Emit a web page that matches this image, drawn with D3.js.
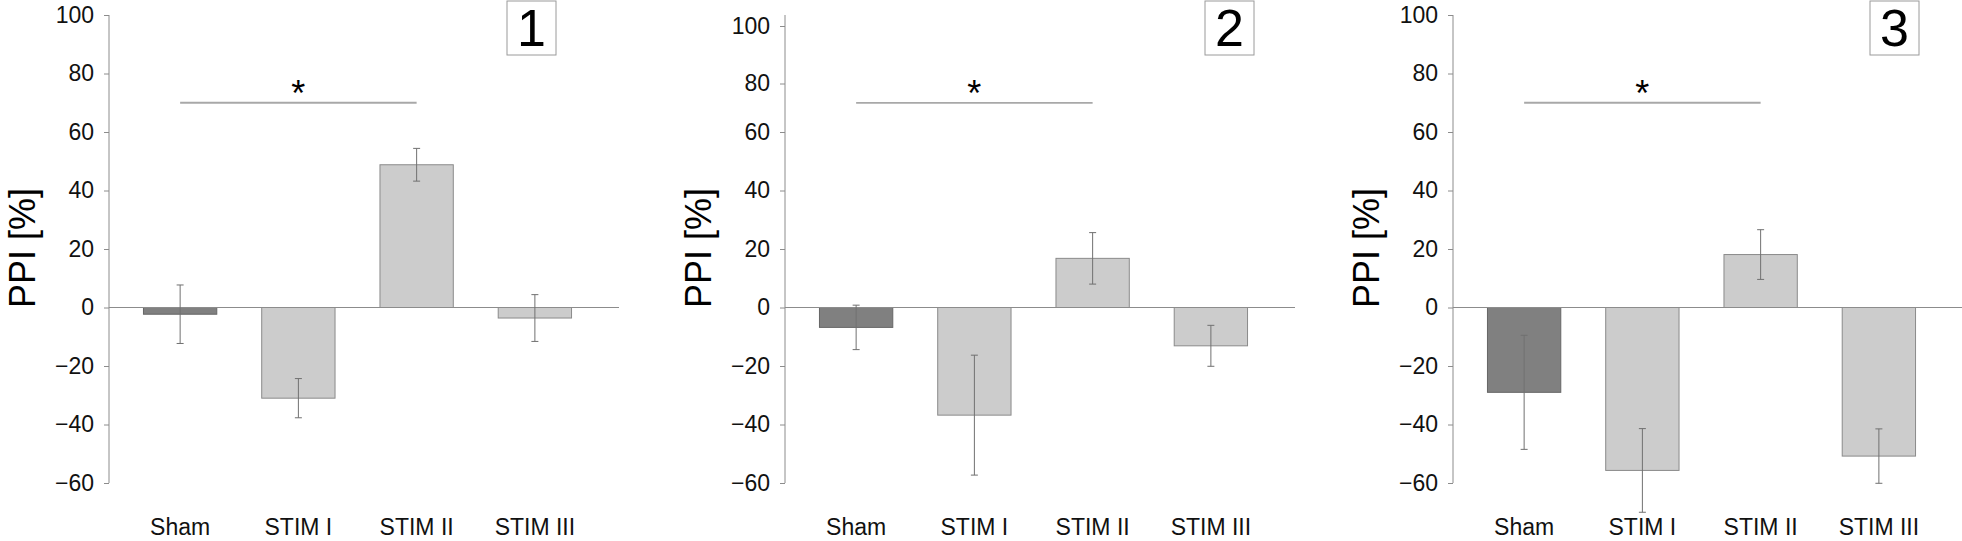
<!DOCTYPE html>
<html>
<head>
<meta charset="utf-8">
<script src="https://cdnjs.cloudflare.com/ajax/libs/d3/7.8.5/d3.min.js"></script>
<style>
  body { margin: 0; background: #fff; }
  svg { display: block; font-family: "Liberation Sans", Arial, sans-serif; }
</style>
</head>
<body>
<svg width="1962" height="541"></svg>
<script>
// categories and values
var categories = ["Sham", "STIM I", "STIM II", "STIM III"];
var panelNames = ["1", "2", "3"];
var yTicks = [-60, -40, -20, 0, 20, 40, 60, 80, 100];

var means1 = [-2.3, -31, 48.8, -3.6];
var errs1  = [10, 6.7, 5.6, 8];
var means2 = [-6.8, -36.8, 16.8, -13.1];
var errs2  = [7.6, 20.5, 8.8, 7];
var means3 = [-29, -55.7, 18.1, -50.8];
var errs3  = [19.5, 14.3, 8.5, 9.3];

var sigFrom = "Sham", sigTo = "STIM II";
var sigLevels = [70, 72, 70];

var svg = d3.select("svg");

// layout
var axisX = [109, 785, 1453];
var boxX = [507, 1205, 1870];
var yBottom = 483, yTop = 15;

var panels = [
    { name: panelNames[0], means: means1, errs: errs1 },
    { name: panelNames[1], means: means2, errs: errs2 },
    { name: panelNames[2], means: means3, errs: errs3 }
];

var baseY = d3.scaleLinear().domain([-60, 100]).range([yBottom, yTop]);

panels.forEach(function(p, k) {
    var ax = axisX[k];
    var g = svg.append("g");

    var y = baseY.copy();
    if (k == 1) {
        // the middle panel has its two top ticks pushed down a bit
        y = d3.scaleLinear().domain([-60, 60, 80, 100])
            .range([yBottom, baseY(60), baseY(80) + 10, baseY(100) + 11]);
    }

    var x = d3.scaleBand()
        .domain(categories)
        .range([ax + 12, ax + 485])
        .paddingInner(0.38)
        .paddingOuter(0.19);

    // y axis
    var yAxis = d3.axisLeft(y).tickValues(yTicks).tickSize(5).tickPadding(10);
    var axG = g.append("g")
        .attr("transform", "translate(" + ax + ",0)")
        .call(yAxis);
    axG.select(".domain").remove();
    axG.selectAll(".tick line").attr("stroke", "#8c8c8c");
    axG.selectAll(".tick text")
        .attr("font-size", 23)
        .attr("font-family", "Liberation Sans, Arial, sans-serif")
        .attr("fill", "#111");
    g.append("line")
        .attr("x1", ax).attr("x2", ax)
        .attr("y1", baseY(100)).attr("y2", y(-60))
        .attr("stroke", "#8c8c8c");

    // axis title
    g.append("text")
        .attr("transform", "translate(" + (ax - 87) + ",248) rotate(-90)")
        .attr("text-anchor", "middle")
        .attr("dy", "0.36em")
        .attr("font-size", 36)
        .attr("fill", "#000")
        .text("PPI [%]");

    // bars
    g.selectAll(".bar")
        .data(p.means)
        .enter()
        .append("rect")
        .attr("x", function(d, i) { return x(categories[i]); })
        .attr("y", function(d) { return Math.min(y(d), y(0)); })
        .attr("width", x.bandwidth())
        .attr("height", function(d) { return Math.abs(y(d) - y(0)); })
        .attr("fill", function(d, i) { return i == 0 ? "#808080" : "#cccccc"; })
        .attr("stroke", function(d, i) { return i == 0 ? "#666" : "#8a8a8a"; })
        .attr("stroke-width", 1);

    // zero line
    g.append("line")
        .attr("x1", ax).attr("x2", ax + 510)
        .attr("y1", y(0)).attr("y2", y(0))
        .attr("stroke", "#8c8c8c");

    // error bars
    var eb = g.selectAll(".err")
        .data(p.means)
        .enter()
        .append("g");
    eb.append("line")
        .attr("x1", function(d, i) { return x(categories[i]) + x.bandwidth() / 2; })
        .attr("x2", function(d, i) { return x(categories[i]) + x.bandwidth() / 2; })
        .attr("y1", function(d, i) { return y(d + p.errs[i]); })
        .attr("y2", function(d, i) { return y(d - p.errs[i]); })
        .attr("stroke", "#707070");
    [1, -1].forEach(function(s) {
        eb.append("line")
            .attr("x1", function(d, i) { return x(categories[i]) + x.bandwidth() / 2 - 3.5; })
            .attr("x2", function(d, i) { return x(categories[i]) + x.bandwidth() / 2 + 3.5; })
            .attr("y1", function(d, i) { return y(d + s * p.errs[i]); })
            .attr("y2", function(d, i) { return y(d + s * p.errs[i]); })
            .attr("stroke", "#707070");
    });

    // category labels
    g.selectAll(".cat")
        .data(categories)
        .enter()
        .append("text")
        .attr("x", function(d) { return x(d) + x.bandwidth() / 2; })
        .attr("y", 535)
        .attr("text-anchor", "middle")
        .attr("font-size", 23)
        .attr("fill", "#111")
        .text(function(d) { return d; });

    // significance bracket
    var sx1 = x(sigFrom) + x.bandwidth() / 2;
    var sx2 = x(sigTo) + x.bandwidth() / 2;
    g.append("line")
        .attr("x1", sx1).attr("x2", sx2)
        .attr("y1", y(sigLevels[k])).attr("y2", y(sigLevels[k]))
        .attr("stroke", "#a8a8a8")
        .attr("stroke-width", 1.8);
    g.append("text")
        .attr("x", (sx1 + sx2) / 2)
        .attr("y", y(sigLevels[k]) + 3)
        .attr("text-anchor", "middle")
        .attr("font-size", 36)
        .attr("fill", "#000")
        .text("*");

    // panel number box
    g.append("rect")
        .attr("x", boxX[k]).attr("y", 1)
        .attr("width", 49).attr("height", 54)
        .attr("fill", "#fff")
        .attr("stroke", "#9a9a9a");
    g.append("text")
        .attr("x", boxX[k] + 24.5)
        .attr("y", 46)
        .attr("text-anchor", "middle")
        .attr("font-size", 52)
        .attr("fill", "#000")
        .text(p.name);
});
</script>
</body>
</html>
